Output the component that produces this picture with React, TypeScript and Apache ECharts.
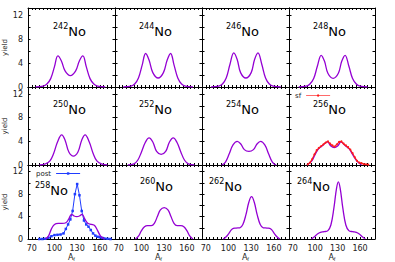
import React, { useEffect, useRef } from "react";
import * as echarts from "echarts";

type Pt = [number, number];

// tick labels
const xTickLabels = [70, 100, 130, 160];
const yTickLabels = [0, 4, 8, 12];

// nuclei masses per panel (row-major)
const masses = ["242", "244", "246", "248", "250", "252", "254", "256", "258", "260", "262", "264"];

// calculated fragment yields (purple)
const no242: Pt[] = [[75, 0], [85, 0.15], [90, 0.5], [95, 1.4], [100, 3.4], [104.5, 5.2], [109, 4.4], [114, 2.7], [121, 1.9], [128, 2.7], [133, 4.4], [137.5, 5.2], [142, 3.4], [147, 1.4], [152, 0.5], [157, 0.15], [167, 0]];
const no244: Pt[] = [[76, 0], [86, 0.15], [91, 0.5], [96, 1.5], [101, 3.7], [105.5, 5.6], [110, 4.5], [115, 2.4], [122, 1.5], [129, 2.4], [134, 4.5], [138.5, 5.6], [143, 3.7], [148, 1.5], [153, 0.5], [158, 0.15], [168, 0]];
const no246: Pt[] = [[77, 0], [87, 0.15], [92, 0.5], [97, 1.5], [102, 3.8], [107, 5.7], [111.5, 4.6], [116, 2.4], [123, 1.5], [130, 2.4], [134.5, 4.6], [139, 5.7], [144, 3.8], [149, 1.5], [154, 0.5], [159, 0.15], [169, 0]];
const no248: Pt[] = [[78, 0], [88, 0.15], [93, 0.5], [98, 1.4], [103, 3.5], [108, 5.3], [112.5, 4.3], [117, 2.3], [124, 1.45], [131, 2.3], [135.5, 4.3], [140, 5.3], [145, 3.5], [150, 1.4], [155, 0.5], [160, 0.15], [170, 0]];
const no250: Pt[] = [[80, 0], [88, 0.2], [94, 0.7], [99, 2.0], [104, 3.9], [109.5, 5.1], [114, 4.2], [119, 2.2], [125, 1.5], [131, 2.2], [136, 4.2], [140.5, 5.1], [146, 3.9], [151, 2.0], [156, 0.7], [162, 0.2], [170, 0]];
const no252: Pt[] = [[82, 0], [90, 0.2], [95, 0.8], [100, 2.2], [105, 3.8], [110, 4.6], [115, 3.9], [120, 2.3], [126, 1.8], [132, 2.3], [137, 3.9], [142, 4.6], [147, 3.8], [152, 2.2], [157, 0.8], [162, 0.2], [170, 0]];
const no254: Pt[] = [[91, 0], [96, 0.5], [101, 1.9], [106, 3.4], [111.5, 4.0], [116, 3.6], [121, 2.6], [127, 2.3], [133, 2.6], [138, 3.6], [142.5, 4.0], [148, 3.4], [153, 1.9], [158, 0.5], [163, 0]];
const no256: Pt[] = [[89, 0], [95, 0.6], [100, 1.8], [105, 2.8], [110, 3.3], [116.5, 3.9], [121, 3.2], [125.5, 2.95], [130, 3.2], [134.5, 3.9], [140, 3.3], [145, 2.8], [150, 1.8], [156, 0.6], [162, 0]];
const no258: Pt[] = [[88, 0], [92, 0.5], [96, 1.8], [100, 2.6], [105, 2.8], [110, 2.8], [115, 2.9], [119, 3.6], [122.5, 4.4], [126, 4.1], [129.5, 4.0], [133, 4.1], [136.5, 4.4], [140, 3.6], [144, 2.8], [149, 2.6], [153, 2.4], [157, 1.5], [161, 0.5], [166, 0]];
const no260: Pt[] = [[92, 0], [96, 0.5], [100, 1.5], [104, 2.2], [108, 2.4], [113, 2.4], [117, 2.8], [121, 4.0], [125, 5.2], [130, 5.6], [135, 5.2], [139, 4.0], [143, 2.8], [147, 2.4], [152, 2.4], [156, 2.2], [160, 1.5], [164, 0.5], [168, 0]];
const no262: Pt[] = [[93, 0], [97, 0.4], [101, 1.1], [105, 1.8], [110, 1.95], [115, 2.0], [119, 2.6], [123, 4.3], [127, 6.6], [130.5, 7.55], [134, 6.6], [138, 4.3], [142, 2.6], [146, 2.0], [151, 1.95], [156, 1.8], [160, 1.1], [164, 0.4], [168, 0]];
const no264: Pt[] = [[95, 0], [99, 0.4], [103, 0.9], [107, 1.2], [112, 1.3], [117, 1.5], [121, 2.5], [125, 5.5], [128.5, 9.0], [131, 10.2], [133.5, 9.0], [137, 5.5], [141, 2.5], [145, 1.5], [150, 1.3], [155, 1.2], [159, 0.9], [163, 0.4], [167, 0]];

// measured sf yields for 256No (red)
const sf256: Pt[] = [[90, 0.1], [93, 0.4], [96, 1.0], [99, 1.8], [102, 2.5], [105, 2.9], [108, 3.2], [111, 3.5], [114, 3.8], [117, 4.0], [120, 3.6], [123, 3.3], [126, 3.1], [129, 3.5], [132, 3.9], [135, 4.0], [138, 3.6], [141, 3.3], [144, 3.0], [147, 2.6], [150, 2.0], [153, 1.3], [156, 0.7], [159, 0.4], [162, 0.3], [165, 0.15], [168, 0.1], [171, 0.05]];

// post-scission yields for 258No (blue)
const post258: Pt[] = [[80, 0], [84, 0], [88, 0.05], [92, 0.2], [96, 0.5], [100, 0.7], [104, 0.75], [108, 0.8], [112, 1.0], [115, 1.8], [118, 2.6], [121, 3.5], [124, 5.0], [127, 8.0], [130, 9.8], [133, 7.8], [136, 5.0], [139, 3.3], [142, 2.6], [145, 2.2], [148, 1.6], [151, 1.0], [154, 0.6], [157, 0.4], [160, 0.3], [163, 0.2], [166, 0.1], [170, 0.05], [174, 0]];

const curves = [no242, no244, no246, no248, no250, no252, no254, no256, no258, no260, no262, no264];

// layout
const colLeft = [28, 115, 202, 289];
const colWidth = [87, 87, 87, 86];
const rowTop = [8, 87, 165];
const rowHeight = [79, 78, 74];
const labelPos: [number, number][] = [
  [53, 30], [139, 30], [226, 30], [313, 30],
  [53, 108], [139, 108], [226, 108], [313, 108],
  [35, 189], [140, 185], [209, 185], [297, 185],
];

const PURPLE = "#9400d3";
const FONT = "DejaVu Sans";

export default function App() {
  const ref = useRef<HTMLDivElement>(null);
  useEffect(() => {
    if (!ref.current) return;
    const chart = echarts.init(ref.current, undefined, { renderer: "svg" });
    const grids: any[] = [];
    const xAxes: any[] = [];
    const yAxes: any[] = [];
    const series: any[] = [];
    const n = 12;
    for (let i = 0; i < n; i++) {
      const r = Math.floor(i / 4);
      const c = i % 4;
      grids.push({ left: colLeft[c], top: rowTop[r], width: colWidth[c], height: rowHeight[r], containLabel: false });
    }
    const xBase = (i: number, top: boolean) => {
      const r = Math.floor(i / 4);
      const showLabel = !top && r === 2;
      return {
        type: "value",
        gridIndex: i,
        position: top ? "top" : "bottom",
        min: 65,
        max: 180,
        interval: 5,
        axisLine: { show: true, onZero: false, lineStyle: { color: "#000", width: 1 } },
        axisTick: { show: true, inside: true, length: 2, lineStyle: { color: "#000" } },
        splitLine: { show: false },
        axisLabel: {
          show: showLabel,
          margin: 5,
          fontSize: 8,
          fontFamily: FONT,
          color: "#222",
          showMinLabel: false,
          showMaxLabel: false,
          formatter: (v: number) => (xTickLabels.includes(v) ? String(v) : ""),
        },
        name: showLabel ? "{a|A}{f|f}" : "",
        nameLocation: "middle",
        nameGap: 14,
        nameTextStyle: {
          color: "#222",
          rich: {
            a: { fontSize: 8, fontFamily: FONT, color: "#222" },
            f: { fontSize: 5, fontFamily: FONT, color: "#222", verticalAlign: "bottom" },
          },
        },
      };
    };
    const yBase = (i: number, right: boolean) => {
      const c = i % 4;
      const showLabel = !right && c === 0;
      return {
        type: "value",
        gridIndex: i,
        position: right ? "right" : "left",
        min: 0,
        max: 13.2,
        interval: 2,
        axisLine: { show: true, onZero: false, lineStyle: { color: "#000", width: 1 } },
        axisTick: { show: true, inside: true, length: 2.5, lineStyle: { color: "#000" } },
        splitLine: { show: false },
        axisLabel: {
          show: showLabel,
          margin: 5,
          fontSize: 8,
          fontFamily: FONT,
          color: "#222",
          showMaxLabel: false,
          formatter: (v: number) => (yTickLabels.includes(v) ? String(v) : ""),
        },
        name: showLabel ? "yield" : "",
        nameLocation: "middle",
        nameGap: 17,
        nameRotate: 90,
        nameTextStyle: { fontSize: 7, fontFamily: FONT, color: "#222" },
      };
    };
    for (let i = 0; i < n; i++) xAxes.push(xBase(i, false));
    for (let i = 0; i < n; i++) xAxes.push(xBase(i, true));
    for (let i = 0; i < n; i++) yAxes.push(yBase(i, false));
    for (let i = 0; i < n; i++) yAxes.push(yBase(i, true));

    for (let i = 0; i < n; i++) {
      if (i === 8) {
        series.push({
          name: "post",
          type: "line",
          xAxisIndex: i,
          yAxisIndex: i,
          data: post258,
          showSymbol: true,
          symbol: "rect",
          symbolSize: 2.5,
          itemStyle: { color: "#1f3cff" },
          lineStyle: { color: "#1f3cff", width: 1 },
          z: 2,
        });
      }
      series.push({
        name: "calc" + masses[i],
        type: "line",
        xAxisIndex: i,
        yAxisIndex: i,
        data: curves[i],
        smooth: 0.4,
        showSymbol: false,
        lineStyle: { color: PURPLE, width: 1.3 },
        z: 3,
      });
      if (i === 7) {
        series.push({
          name: "sf",
          type: "line",
          xAxisIndex: i,
          yAxisIndex: i,
          data: sf256,
          showSymbol: true,
          symbol: "circle",
          symbolSize: 2,
          itemStyle: { color: "#ff1a1a" },
          lineStyle: { color: "#ff1a1a", width: 1.1 },
          z: 4,
        });
      }
    }

    const graphics = masses.map((m, i) => ({
      type: "text",
      x: labelPos[i][0],
      y: labelPos[i][1],
      style: {
        text: "{s|" + m + "}{n|No}",
        verticalAlign: "middle",
        align: "left",
        rich: {
          s: { fontSize: 8, fontFamily: FONT, fill: "#000", verticalAlign: "top", lineHeight: 15 },
          n: { fontSize: 13, fontFamily: FONT, fill: "#000", verticalAlign: "bottom", lineHeight: 15 },
        },
      },
    }));

    const legendCommon = {
      orient: "horizontal",
      align: "right",
      itemWidth: 24,
      itemHeight: 3,
      padding: 0,
      itemGap: 0,
      lineStyle: { width: 1 },
      textStyle: { fontSize: 7, fontFamily: FONT, color: "#222", padding: [0, 0, 0, 0] },
    };

    chart.setOption({
      animation: false,
      backgroundColor: "#fff",
      grid: grids,
      xAxis: xAxes,
      yAxis: yAxes,
      series,
      legend: [
        { ...legendCommon, data: ["sf"], left: 295, top: 92, lineStyle: { width: 1, color: "#ff6a6a" } },
        { ...legendCommon, data: ["post"], left: 36, top: 170 },
      ],
      graphic: graphics,
    });
    return () => chart.dispose();
  }, []);
  return <div ref={ref} style={{ position: "fixed", left: 0, top: 0, width: 395, height: 262 }} />;
}
